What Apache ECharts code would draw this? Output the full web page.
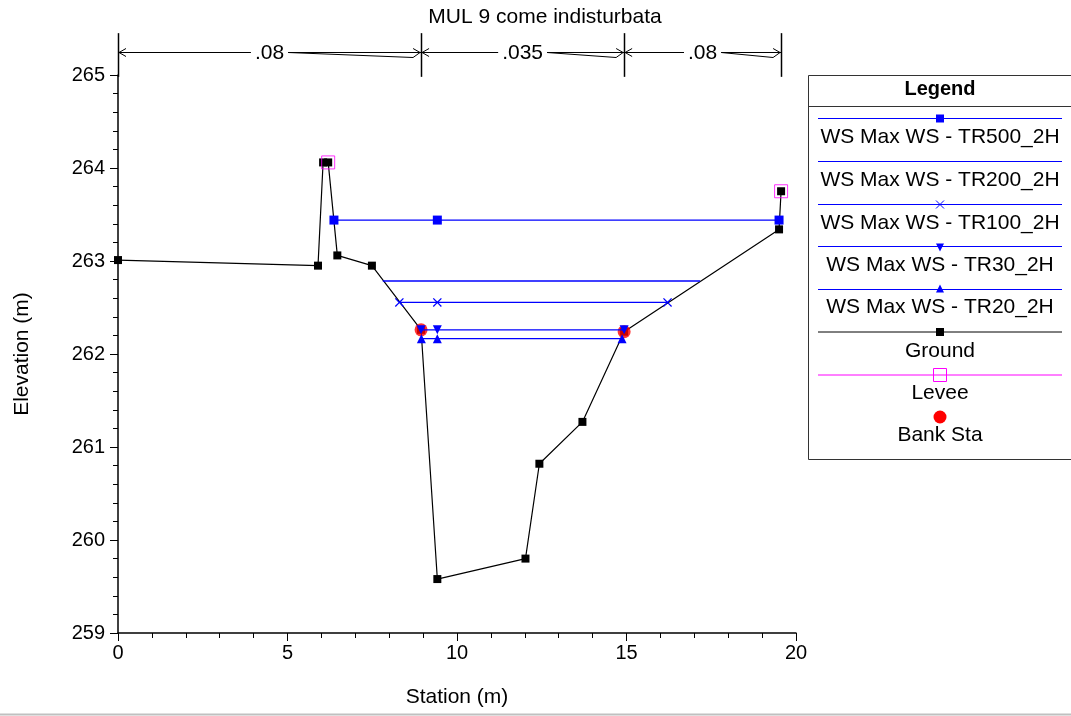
<!DOCTYPE html>
<html>
<head>
<meta charset="utf-8">
<script src="https://cdn.jsdelivr.net/npm/echarts@6/dist/echarts.min.js"></script>
<style>
html,body{margin:0;padding:0;background:#fff;}
#chart{width:1071px;height:716px;}
</style>
</head>
<body>
<div id="chart"></div>
<script>
// ---- data ----
const titleText = 'MUL 9 come indisturbata';
const groundX = [0, 5.9, 6.05, 6.2, 6.47, 7.49, 8.94, 9.42, 12.02, 12.43, 13.7, 14.93, 19.5, 19.56];
const groundY = [263.01, 262.95, 264.06, 264.06, 263.06, 262.95, 262.26, 259.58, 259.80, 260.82, 261.27, 262.24, 263.34, 263.75];
const tr500X = [6.37, 9.42, 19.5];
const tr500Y = [263.44, 263.44, 263.44];
const tr200X = [7.81, 17.17];
const tr200Y = [262.785, 262.785];
const tr100X = [8.3, 9.42, 16.21];
const tr100Y = [262.555, 262.555, 262.555];
const tr30X = [8.94, 9.42, 14.93];
const tr30Y = [262.26, 262.26, 262.26];
const tr20X = [8.95, 9.42, 14.87];
const tr20Y = [262.165, 262.165, 262.165];
const leveeX = [6.2, 19.56];
const leveeY = [264.06, 263.75];
const bankX = [8.94, 14.93];
const bankY = [262.26, 262.24];
const nStart = [0, 8.94, 14.93];
const nEnd = [8.94, 14.93, 19.56];
const nLabels = ['.08', '.035', '.08'];
const legendNames = ['WS Max WS - TR500_2H', 'WS Max WS - TR200_2H', 'WS Max WS - TR100_2H', 'WS Max WS - TR30_2H', 'WS Max WS - TR20_2H', 'Ground', 'Levee', 'Bank Sta'];
const xTicks = [0, 5, 10, 15, 20];
const yTicks = [259, 260, 261, 262, 263, 264, 265];

// ---- helpers ----
const FONT = '"Liberation Sans", Arial, sans-serif';
const BLUE = '#0000ff';
const pairs = (xs, ys) => xs.map((x, i) => [x, ys[i]]);
const xMarker = 'path://M0,1 L1,0 L5,4 L9,0 L10,1 L6,5 L10,9 L9,10 L5,6 L1,10 L0,9 L4,5 Z';
const mctx = document.createElement('canvas').getContext('2d');
mctx.font = '21px ' + FONT;

const chart = echarts.init(document.getElementById('chart'), null, {renderer: 'canvas'});

function renderN(params, api) {
  const x0 = api.value(0), x1 = api.value(1), label = nLabels[params.dataIndex];
  const yMid = 265.245;
  const s = api.coord([x0, yMid]);
  const e = api.coord([x1, yMid]);
  const topS = api.coord([x0, 265.45]);
  const botS = api.coord([x0, 264.98]);
  const y = Math.round(s[1]) + 0.5;
  const mid = (s[0] + e[0]) / 2;
  const tw = mctx.measureText(label).width;
  const tl = mid - tw / 2 - 4, tr = mid + tw / 2 + 4;
  const st = {stroke: '#000', lineWidth: 1, fill: null};
  const children = [
    {type: 'line', shape: {x1: Math.round(s[0]) + 0.5, y1: topS[1], x2: Math.round(s[0]) + 0.5, y2: botS[1]}, style: Object.assign({}, st, {lineWidth: 1.5})},
    {type: 'line', shape: {x1: s[0], y1: y, x2: tl, y2: y}, style: st},
    {type: 'polyline', shape: {points: [[s[0] + 8, y - 4], [s[0] + 1, y], [s[0] + 8, y + 4]]}, style: st},
    {type: 'line', shape: {x1: tr, y1: y, x2: e[0], y2: y}, style: st},
    {type: 'line', shape: {x1: tr, y1: y, x2: e[0] - 8, y2: y + 5}, style: st},
    {type: 'polyline', shape: {points: [[e[0] - 8, y - 4], [e[0] - 1, y], [e[0] - 8, y + 5]]}, style: st},
    {type: 'text', x: mid, y: y + 1, style: {text: label, font: '21px ' + FONT, fill: '#000', align: 'center', verticalAlign: 'middle'}}
  ];
  if (params.dataIndex === nStart.length - 1) {
    const topE = api.coord([x1, 265.45]);
    const botE = api.coord([x1, 264.98]);
    children.push({type: 'line', shape: {x1: Math.round(e[0]) + 0.5, y1: topE[1], x2: Math.round(e[0]) + 0.5, y2: botE[1]}, style: Object.assign({}, st, {lineWidth: 1.5})});
  }
  return {type: 'group', children: children};
}

// legend graphic
const LX = 940, LL = 818, LR = 1062;
const lineYs = [118.5, 161.5, 204.5, 246.5, 289.5, 332, 375];
const textYs = [137, 180, 223, 265, 307, 351, 393, 435];
const legendGraphics = [
  {type: 'rect', shape: {x: 808.5, y: 75.5, width: 300, height: 384}, style: {fill: '#fff', stroke: '#333', lineWidth: 1}},
  {type: 'line', shape: {x1: 808.5, y1: 106.5, x2: 1071, y2: 106.5}, style: {stroke: '#333', lineWidth: 1}},
  {type: 'text', x: LX, y: 89, style: {text: 'Legend', font: 'bold 20px ' + FONT, fill: '#000', align: 'center', verticalAlign: 'middle'}}
];
const lineColors = [BLUE, BLUE, BLUE, BLUE, BLUE, '#000', '#ff00ff'];
lineYs.forEach((ly, i) => {
  legendGraphics.push({type: 'line', shape: {x1: LL, y1: ly, x2: LR, y2: ly}, style: {stroke: lineColors[i], lineWidth: 1}});
});
// markers
legendGraphics.push({type: 'rect', shape: {x: LX - 4, y: lineYs[0] - 4, width: 8, height: 8}, style: {fill: BLUE}});
legendGraphics.push({type: 'polyline', shape: {points: [[LX - 4, lineYs[2] - 4], [LX + 4, lineYs[2] + 4]]}, style: {stroke: BLUE, lineWidth: 1}});
legendGraphics.push({type: 'polyline', shape: {points: [[LX + 4, lineYs[2] - 4], [LX - 4, lineYs[2] + 4]]}, style: {stroke: BLUE, lineWidth: 1}});
legendGraphics.push({type: 'polygon', shape: {points: [[LX - 4, lineYs[3] - 3], [LX + 4, lineYs[3] - 3], [LX, lineYs[3] + 5]]}, style: {fill: BLUE}});
legendGraphics.push({type: 'polygon', shape: {points: [[LX - 4, lineYs[4] + 3], [LX + 4, lineYs[4] + 3], [LX, lineYs[4] - 5]]}, style: {fill: BLUE}});
legendGraphics.push({type: 'rect', shape: {x: LX - 4, y: lineYs[5] - 4, width: 8, height: 8}, style: {fill: '#000'}});
legendGraphics.push({type: 'rect', shape: {x: LX - 6.5, y: lineYs[6] - 6.5, width: 13, height: 13}, style: {fill: 'none', stroke: '#ff00ff', lineWidth: 1}});
legendGraphics.push({type: 'circle', shape: {cx: LX, cy: 417, r: 6.5}, style: {fill: '#ff0000'}});
legendNames.forEach((n, i) => {
  legendGraphics.push({type: 'text', x: LX, y: textYs[i], style: {text: n, font: '21px ' + FONT, fill: '#000', align: 'center', verticalAlign: 'middle'}});
});
legendGraphics.push({type: 'line', shape: {x1: 0, y1: 714.5, x2: 1071, y2: 714.5}, style: {stroke: '#c0c0c0', lineWidth: 2}});

function wsSeries(name, xs, ys, symbol, extra) {
  return Object.assign({
    name: name, type: 'line', data: pairs(xs, ys),
    symbol: symbol || 'none', symbolSize: 8, showSymbol: !!symbol,
    lineStyle: {color: BLUE, width: 1.3},
    itemStyle: {color: BLUE},
    z: 5
  }, extra || {});
}

const option = {
  animation: false,
  backgroundColor: '#fff',
  textStyle: {fontFamily: FONT},
  title: {
    text: titleText, left: 540, top: 2, textAlign: 'center',
    textStyle: {fontFamily: FONT, fontSize: 21, fontWeight: 'normal', color: '#000'}
  },
  grid: {left: 118, right: 275, top: 75, bottom: 83, containLabel: false},
  xAxis: {
    type: 'value', min: 0, max: 20, interval: 5,
    name: 'Station (m)', nameLocation: 'middle', nameGap: 54,
    nameTextStyle: {fontFamily: FONT, fontSize: 21, color: '#000'},
    axisLine: {show: true, onZero: false, lineStyle: {color: '#000', width: 1.5}},
    axisTick: {show: true, length: 8, lineStyle: {color: '#000'}},
    minorTick: {show: true, splitNumber: 5, length: 5, lineStyle: {color: '#000'}},
    axisLabel: {fontFamily: FONT, fontSize: 20, color: '#000', margin: 10},
    splitLine: {show: false}
  },
  yAxis: {
    type: 'value', min: 259, max: 265, interval: 1,
    name: 'Elevation (m)', nameLocation: 'middle', nameGap: 85, nameRotate: 90,
    nameTextStyle: {fontFamily: FONT, fontSize: 21, color: '#000'},
    axisLine: {show: true, onZero: false, lineStyle: {color: '#000', width: 1.5}},
    axisTick: {show: true, length: 8, lineStyle: {color: '#000'}},
    minorTick: {show: true, splitNumber: 5, length: 5, lineStyle: {color: '#000'}},
    axisLabel: {fontFamily: FONT, fontSize: 20, color: '#000', margin: 13},
    splitLine: {show: false}
  },
  graphic: legendGraphics,
  series: [
    {
      name: 'Ground', type: 'line', data: pairs(groundX, groundY),
      symbol: 'rect', symbolSize: 8, lineStyle: {color: '#000', width: 1.2}, itemStyle: {color: '#000'}, z: 2
    },
    {
      name: 'Levee', type: 'scatter', data: pairs(leveeX, leveeY),
      symbol: 'rect', symbolSize: 13, itemStyle: {color: 'rgba(0,0,0,0)', borderColor: '#ff00ff', borderWidth: 1}, z: 3
    },
    {
      name: 'Bank Sta', type: 'scatter', data: pairs(bankX, bankY),
      symbol: 'circle', symbolSize: 13, itemStyle: {color: '#ff0000'}, z: 4
    },
    wsSeries('WS Max WS - TR500_2H', tr500X, tr500Y, 'rect', {symbolSize: 9}),
    wsSeries('WS Max WS - TR200_2H', tr200X, tr200Y, null),
    wsSeries('WS Max WS - TR100_2H', tr100X, tr100Y, xMarker, {symbolSize: 9}),
    wsSeries('WS Max WS - TR30_2H', tr30X, tr30Y, 'triangle', {symbolRotate: 180, symbolSize: 9}),
    wsSeries('WS Max WS - TR20_2H', tr20X, tr20Y, 'triangle', {symbolSize: 9}),
    {
      name: 'n values', type: 'custom', clip: false, silent: true,
      data: nStart.map((s, i) => [s, nEnd[i]]),
      encode: {x: [0, 1]},
      renderItem: renderN, z: 6
    }
  ]
};
chart.setOption(option);
</script>
</body>
</html>
